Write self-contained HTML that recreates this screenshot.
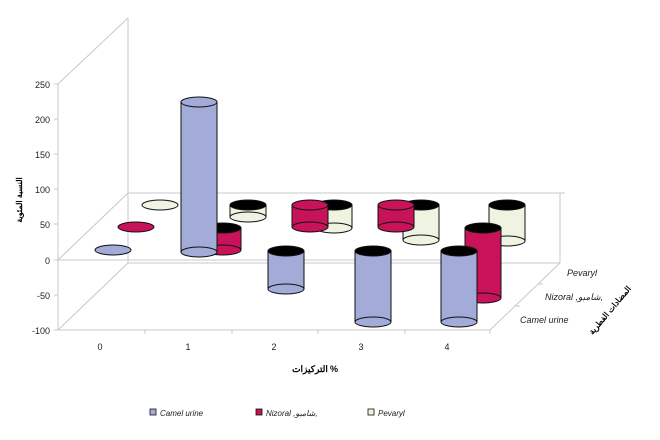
<!DOCTYPE html>
<html><head><meta charset="utf-8"><style>
body{margin:0;background:#fff}
svg{display:block;font-family:"Liberation Sans","Noto Sans CJK SC",sans-serif}
</style></head><body>
<svg width="660" height="440" viewBox="0 0 660 440" xmlns="http://www.w3.org/2000/svg">
<g stroke="#c8c8c8" stroke-width="1" fill="none">
<line x1="128" y1="18" x2="128" y2="263"/>
<line x1="58" y1="84" x2="128" y2="18"/>
<line x1="58" y1="330" x2="128" y2="263"/>
<line x1="58" y1="260" x2="128" y2="193"/>
<line x1="128" y1="193" x2="565" y2="193"/>
<line x1="128" y1="263" x2="560" y2="263"/>
<line x1="490" y1="330" x2="560" y2="263"/>
<line x1="58" y1="84" x2="58" y2="330"/>
<line x1="58" y1="330" x2="490" y2="330"/>
<line x1="58" y1="260" x2="490" y2="260"/>
<line x1="560" y1="193" x2="560" y2="263"/>
<line x1="515" y1="306" x2="520" y2="306"/>
<line x1="538" y1="284" x2="543" y2="284"/>
</g>
<g stroke="#c8c8c8">
<line x1="54" y1="84" x2="58" y2="84"/><line x1="54" y1="119" x2="58" y2="119"/><line x1="54" y1="154" x2="58" y2="154"/><line x1="54" y1="189" x2="58" y2="189"/><line x1="54" y1="224" x2="58" y2="224"/><line x1="54" y1="260" x2="58" y2="260"/><line x1="54" y1="295" x2="58" y2="295"/><line x1="54" y1="330" x2="58" y2="330"/>
<line x1="145" y1="330" x2="145" y2="334"/><line x1="232" y1="330" x2="232" y2="334"/><line x1="318" y1="330" x2="318" y2="334"/><line x1="405" y1="330" x2="405" y2="334"/><line x1="490" y1="330" x2="490" y2="334"/>
</g>
<g font-size="9" fill="#222" text-anchor="end">
<text x="50" y="88">250</text><text x="50" y="123">200</text><text x="50" y="158">150</text><text x="50" y="193">100</text><text x="50" y="228">50</text><text x="50" y="264">0</text><text x="50" y="299">-50</text><text x="50" y="334">-100</text>
</g>
<g font-size="9" fill="#222" text-anchor="middle">
<text x="100" y="350">0</text><text x="188" y="350">1</text><text x="274" y="350">2</text><text x="361" y="350">3</text><text x="447" y="350">4</text>
</g>
<text x="310" y="372" font-size="9" font-weight="bold" text-anchor="middle">التركيزات</text>
<text x="334" y="372" font-size="9" font-weight="bold" text-anchor="middle">%</text>
<text transform="translate(612,312) rotate(-50)" font-size="8" font-weight="bold" text-anchor="middle">المضادات الفطرية</text>
<text transform="translate(22,200) rotate(-90)" font-size="8" font-weight="bold" text-anchor="middle">النسبة المئوية</text>
<g font-size="9" font-style="italic" fill="#222">
<text x="567" y="276">Pevaryl</text><text x="545" y="300">Nizoral ,شامبو,</text><text x="520" y="323">Camel urine</text>
</g>
<g stroke="#111" stroke-width="1">
<ellipse cx="160" cy="205" rx="18" ry="5" fill="#eef3e2"/>
<rect x="230" y="205" width="36" height="12" fill="#eef3e2"/><ellipse cx="248" cy="217" rx="18" ry="5" fill="#eef3e2"/><ellipse cx="248" cy="205" rx="18" ry="5" fill="#000"/>
<rect x="316" y="205" width="36" height="23" fill="#eef3e2"/><ellipse cx="334" cy="228" rx="18" ry="5" fill="#eef3e2"/><ellipse cx="334" cy="205" rx="18" ry="5" fill="#000"/>
<rect x="403" y="205" width="36" height="35" fill="#eef3e2"/><ellipse cx="421" cy="240" rx="18" ry="5" fill="#eef3e2"/><ellipse cx="421" cy="205" rx="18" ry="5" fill="#000"/>
<rect x="489" y="205" width="36" height="36" fill="#eef3e2"/><ellipse cx="507" cy="241" rx="18" ry="5" fill="#eef3e2"/><ellipse cx="507" cy="205" rx="18" ry="5" fill="#000"/>
<ellipse cx="136" cy="227" rx="18" ry="5" fill="#c8125a"/>
<rect x="205" y="228" width="36" height="22" fill="#c8125a"/><ellipse cx="223" cy="250" rx="18" ry="5" fill="#c8125a"/><ellipse cx="223" cy="228" rx="18" ry="5" fill="#000"/>
<rect x="292" y="205" width="36" height="22" fill="#c8125a"/><ellipse cx="310" cy="227" rx="18" ry="5" fill="#c8125a"/><ellipse cx="310" cy="205" rx="18" ry="5" fill="#c8125a"/>
<rect x="378" y="205" width="36" height="22" fill="#c8125a"/><ellipse cx="396" cy="227" rx="18" ry="5" fill="#c8125a"/><ellipse cx="396" cy="205" rx="18" ry="5" fill="#c8125a"/>
<rect x="465" y="228" width="36" height="70" fill="#c8125a"/><ellipse cx="483" cy="298" rx="18" ry="5" fill="#c8125a"/><ellipse cx="483" cy="228" rx="18" ry="5" fill="#000"/>
<ellipse cx="113" cy="250" rx="18" ry="5" fill="#a3abd9"/>
<rect x="181" y="102" width="36" height="150" fill="#a3abd9"/><ellipse cx="199" cy="252" rx="18" ry="5" fill="#a3abd9"/><ellipse cx="199" cy="102" rx="18" ry="5" fill="#a3abd9"/>
<rect x="268" y="251" width="36" height="38" fill="#a3abd9"/><ellipse cx="286" cy="289" rx="18" ry="5" fill="#a3abd9"/><ellipse cx="286" cy="251" rx="18" ry="5" fill="#000"/>
<rect x="355" y="251" width="36" height="71" fill="#a3abd9"/><ellipse cx="373" cy="322" rx="18" ry="5" fill="#a3abd9"/><ellipse cx="373" cy="251" rx="18" ry="5" fill="#000"/>
<rect x="441" y="251" width="36" height="71" fill="#a3abd9"/><ellipse cx="459" cy="322" rx="18" ry="5" fill="#a3abd9"/><ellipse cx="459" cy="251" rx="18" ry="5" fill="#000"/>
</g>
<g stroke="#111" stroke-width="0.8">
<rect x="150" y="409" width="6" height="6" fill="#a3abd9"/>
<rect x="256" y="409" width="6" height="6" fill="#c8125a"/>
<rect x="368" y="409" width="6" height="6" fill="#eef3e2"/>
</g>
<g font-size="8" font-style="italic" fill="#222">
<text x="160" y="416">Camel urine</text><text x="266" y="416">Nizoral ,شامبو,</text><text x="378" y="416">Pevaryl</text>
</g>
</svg>
</body></html>
